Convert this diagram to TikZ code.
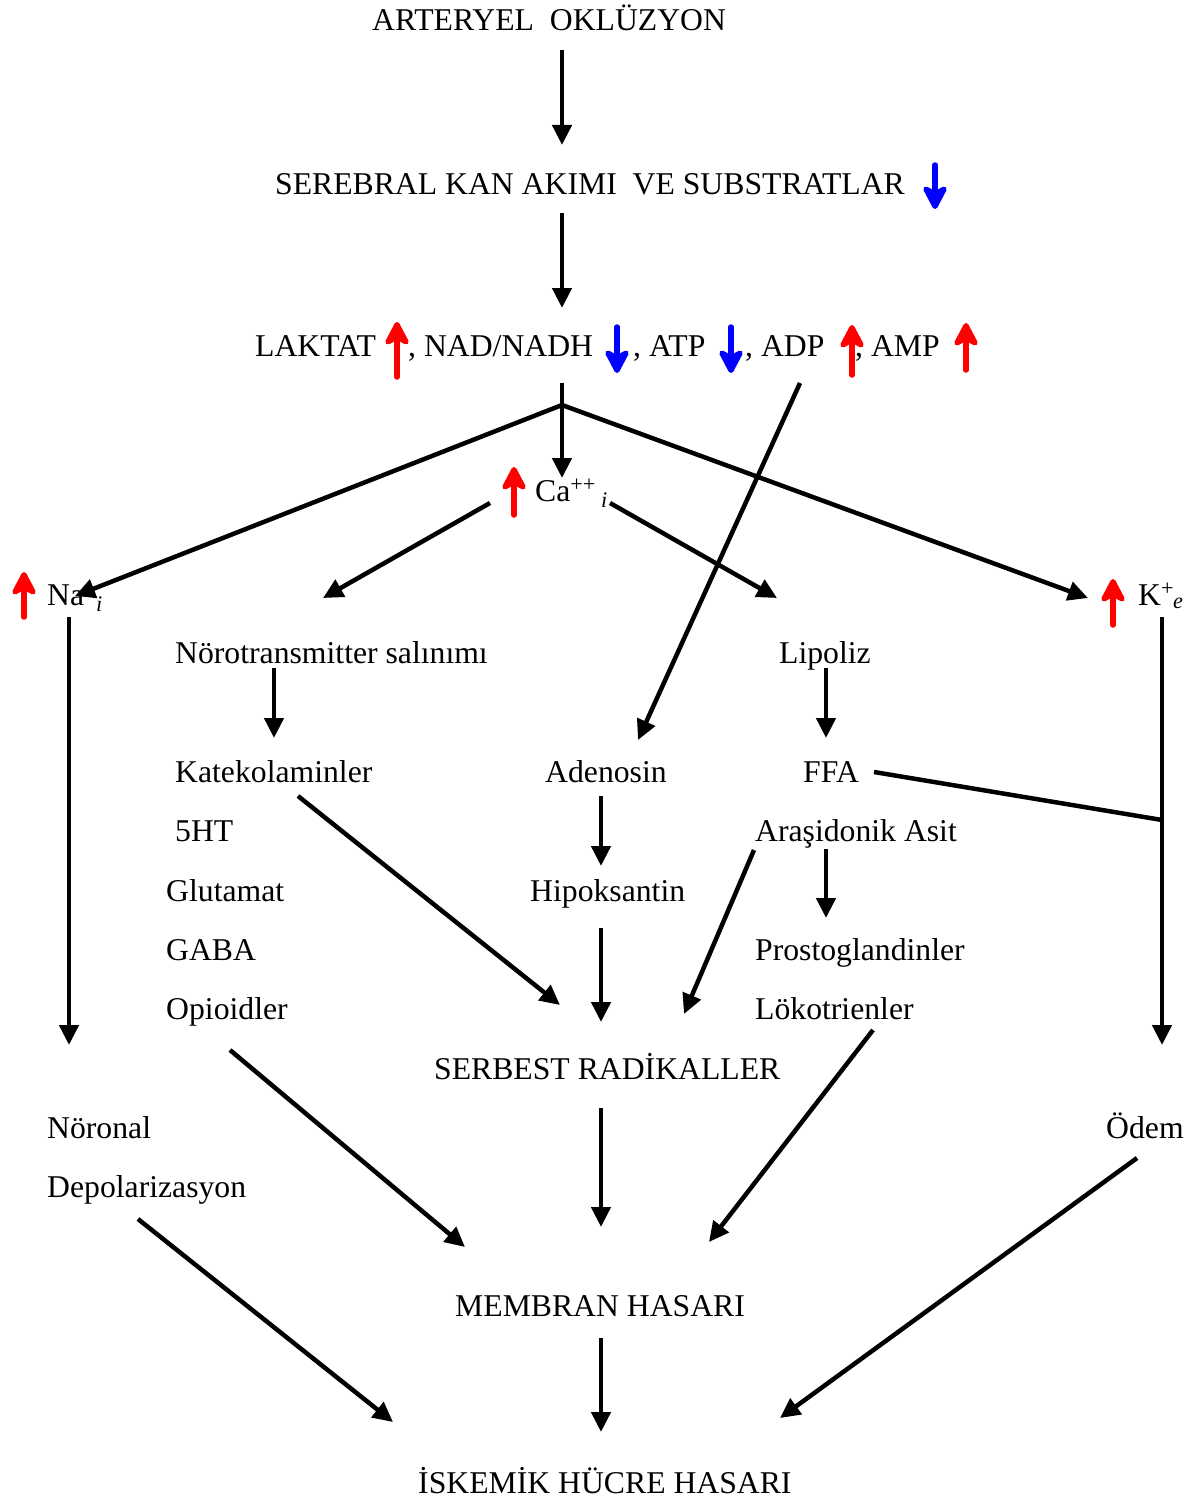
\documentclass[tikz,border=0pt]{standalone}
\usepackage{fontspec}
\setmainfont{Liberation Serif}
\usetikzlibrary{calc,arrows.meta}
\definecolor{markRed}{RGB}{255,0,0}
\definecolor{markBlue}{RGB}{0,0,255}

\tikzset{
  lbl/.style={anchor=base west,inner sep=0pt,font=\fontsize{31.7}{38}\selectfont},
  flow/.style={-{Triangle[length=20pt,width=19pt]},line width=4.5pt},
  bar/.style={line width=4.5pt},
  upmark/.style={-{Stealth[length=29pt,width=30pt,inset=8pt,round]},markRed,line width=5.5pt,line cap=round},
  downmark/.style={-{Stealth[length=29pt,width=30pt,inset=8pt,round]},markBlue,line width=5.5pt,line cap=round}
}

\begin{document}
\begin{tikzpicture}[x=1pt,y=-1pt]
\useasboundingbox (0,0) rectangle (1194,1501);
% upper chain
\node[lbl] (arter) at (372,31) {ARTERYEL\ \ OKLÜZYON};
\node[lbl] (sereb) at (275,194) {SEREBRAL KAN AKIMI\ \ VE SUBSTRATLAR};
\node[lbl] (laktat) at (255,356) {LAKTAT};
\node[lbl] (nad) at (408,356) {, NAD/NADH};
\node[lbl] (atp) at (633,356) {, ATP};
\node[lbl] (adp) at (745,356) {, ADP};
\node[lbl] (amp) at (855,356) {, AMP};
\draw[downmark] (935,165) -- (935,209);
\draw[upmark] (397,377) -- (397,322);
\draw[downmark] (617,327) -- (617,373);
\draw[downmark] (731,327) -- (731,373);
\draw[upmark] (852,375) -- (852,325);
\draw[upmark] (966,370) -- (966,323);
% ions
\node[lbl] (ca) at (535,501) {Ca\textsuperscript{++}\,\textsubscript{\itshape i}};
\node[lbl] (na) at (47,605) {Na\textsuperscript{+}\kern-1pt\textsubscript{\itshape i}};
\node[lbl] (ke) at (1138,605) {K\textsuperscript{+}\kern-1pt\textsubscript{\itshape e}};
\draw[upmark] (514,515) -- (514,467);
\draw[upmark] (24,617) -- (24,572);
\draw[upmark] (1113,625) -- (1113,579);
% middle rows
\node[lbl] (noro) at (175,663) {Nörotransmitter salınımı};
\node[lbl] (lipo) at (779,663) {Lipoliz};
\node[lbl] (kate) at (175,782) {Katekolaminler};
\node[lbl] (adeno) at (545,782) {Adenosin};
\node[lbl] (ffa) at (803,782) {FFA};
\node[lbl] (fiveht) at (175,841) {5HT};
\node[lbl] (arasi) at (755,841) {Araşidonik Asit};
\node[lbl] (gluta) at (166,901) {Glutamat};
\node[lbl] (hipo) at (530,901) {Hipoksantin};
\node[lbl] (gaba) at (166,960) {GABA};
\node[lbl] (prosto) at (755,960) {Prostoglandinler};
\node[lbl] (opio) at (166,1019) {Opioidler};
\node[lbl] (loko) at (755,1019) {Lökotrienler};
\node[lbl] (serbest) at (434,1079) {SERBEST RADİKALLER};
\node[lbl] (noron) at (47,1138) {Nöronal};
\node[lbl] (odem) at (1106,1138) {Ödem};
\node[lbl] (depol) at (47,1197) {Depolarizasyon};
\node[lbl] (membran) at (455,1316) {MEMBRAN HASARI};
\node[lbl] (iskemik) at (418,1493) {İSKEMİK HÜCRE HASARI};
% connectors
\draw[flow] ($(arter.base west)+(190,19)$) -- ($(sereb.base west)+(287,-49)$);
\draw[flow] ($(sereb.base west)+(287,19)$) -- ($(laktat.base west)+(307,-48)$);
\coordinate (split) at ($(laktat.base west)+(307,49)$);
\draw[bar] ($(laktat.base west)+(307,27)$) -- (split);
\draw[flow] (split) -- ($(ca.base west)+(27,-23)$);
\draw[flow] (split) -- ($(na.base west)+(28,-9)$);
\draw[flow] (split) -- ($(ke.base west)+(-50,-7)$);
\draw[flow] ($(ca.base west)+(-45,2)$) -- ($(noro.base west)+(148,-65)$);
\draw[flow] ($(ca.base west)+(75,2)$) -- ($(lipo.base west)+(-2,-65)$);
\draw[flow] ($(adp.base west)+(55,27)$) -- ($(adeno.base west)+(93,-42)$);
\draw[flow] ($(na.base west)+(22,12)$) -- ($(noron.base west)+(22,-93)$);
\draw[flow] ($(ke.base west)+(24,12)$) -- ($(odem.base west)+(56,-93)$);
\draw[flow] ($(noro.base west)+(99,5)$) -- ($(kate.base west)+(99,-44)$);
\draw[flow] ($(lipo.base west)+(47,5)$) -- ($(ffa.base west)+(23,-44)$);
\draw[bar] ($(ffa.base west)+(71,-10)$) -- ($(ke.base west)+(24,215)$);
\draw[flow] ($(kate.base west)+(123,14)$) -- ($(serbest.base west)+(126,-74)$);
\draw[flow] ($(adeno.base west)+(56,14)$) -- ($(hipo.base west)+(71,-35)$);
\draw[flow] ($(arasi.base west)+(71,8)$) -- ($(prosto.base west)+(71,-42)$);
\draw[flow] ($(hipo.base west)+(71,27)$) -- ($(serbest.base west)+(167,-57)$);
\draw[flow] ($(arasi.base west)+(-1,9)$) -- ($(serbest.base west)+(250,-65)$);
\draw[flow] ($(opio.base west)+(64,31)$) -- ($(membran.base west)+(10,-69)$);
\draw[flow] ($(serbest.base west)+(167,29)$) -- ($(membran.base west)+(146,-89)$);
\draw[flow] ($(loko.base west)+(118,11)$) -- ($(membran.base west)+(254,-74)$);
\draw[flow] ($(depol.base west)+(91,22)$) -- ($(iskemik.base west)+(-25,-71)$);
\draw[flow] ($(membran.base west)+(146,22)$) -- ($(iskemik.base west)+(183,-61)$);
\draw[flow] ($(odem.base west)+(31,20)$) -- ($(iskemik.base west)+(362,-75)$);
\end{tikzpicture}
\end{document}
